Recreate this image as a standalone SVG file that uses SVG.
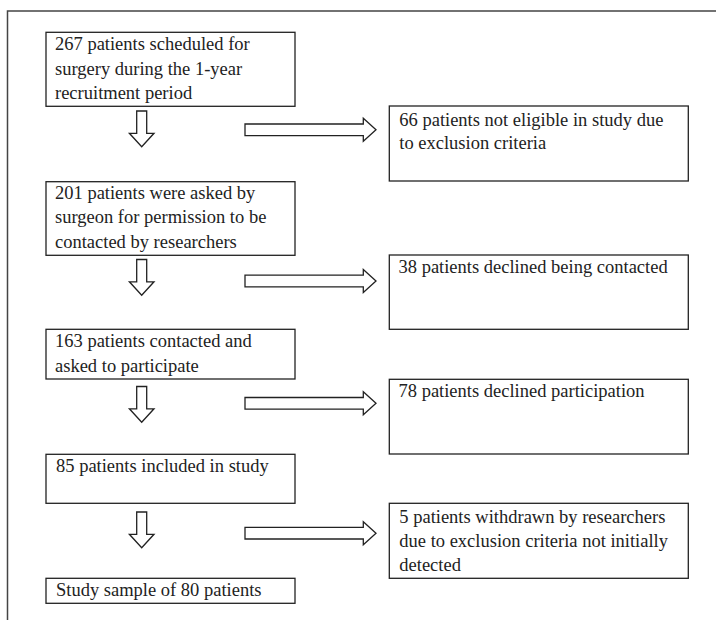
<svg xmlns="http://www.w3.org/2000/svg" xmlns:xlink="http://www.w3.org/1999/xlink" width="716" height="620" viewBox="0 0 716 620">
<style>
  .box { fill: #fff; stroke: #222; stroke-width: 1.3; }
  .arr { fill: #fff; stroke: #222; stroke-width: 1.3; stroke-linejoin: miter; }
  .t { font-family: "Liberation Serif", "Times New Roman", serif; font-size: 18.5px; fill: #222; }
  .frame { fill: none; stroke: #444; stroke-width: 1.5; }
</style>
<defs>
  <path id="down" class="arr" d="M-5,0 H5 V22.3 H12.3 L0,35.7 L-12.3,22.3 H-5 Z"/>
  <path id="right" class="arr" d="M0,-5.8 H118.3 V-11.5 L131,0 L118.3,11.5 V5.8 H0 Z"/>
</defs>
<rect width="716" height="620" fill="#fff"/>
<path class="frame" d="M7.5,620 V11 H716"/>

<g id="connectors">
  <use xlink:href="#down" x="141.7" y="111"/>
  <use xlink:href="#down" x="141.7" y="259.5"/>
  <use xlink:href="#down" x="141.7" y="386.5"/>
  <use xlink:href="#down" x="141.7" y="512"/>
  <use xlink:href="#right" x="245" y="129.8"/>
  <use xlink:href="#right" x="245" y="281"/>
  <use xlink:href="#right" x="245" y="403.3"/>
  <use xlink:href="#right" x="245" y="533.2"/>
</g>

<g id="n267">
  <rect class="box" x="46" y="32.3" width="249" height="74"/>
  <text class="t" x="55" y="50">267 patients scheduled for</text>
  <text class="t" x="55" y="74.5">surgery during the 1-year</text>
  <text class="t" x="55" y="99">recruitment period</text>
</g>
<g id="n66">
  <rect class="box" x="389.3" y="106" width="299" height="75"/>
  <text class="t" x="399.3" y="125.5">66 patients not eligible in study due</text>
  <text class="t" x="399.3" y="149">to exclusion criteria</text>
</g>
<g id="n201">
  <rect class="box" x="46" y="181.7" width="249" height="73.6"/>
  <text class="t" x="55" y="199">201 patients were asked by</text>
  <text class="t" x="55" y="223.3">surgeon for permission to be</text>
  <text class="t" x="55" y="247.7">contacted by researchers</text>
</g>
<g id="n38">
  <rect class="box" x="389.3" y="255" width="299" height="74.3"/>
  <text class="t" x="398.5" y="273.3">38 patients declined being contacted</text>
</g>
<g id="n163">
  <rect class="box" x="46" y="329.3" width="249" height="49.7"/>
  <text class="t" x="55" y="347.3">163 patients contacted and</text>
  <text class="t" x="55" y="371.7">asked to participate</text>
</g>
<g id="n78">
  <rect class="box" x="389.3" y="379.3" width="299" height="74.7"/>
  <text class="t" x="398.5" y="396.7">78 patients declined participation</text>
</g>
<g id="n85">
  <rect class="box" x="46" y="454.3" width="249" height="49"/>
  <text class="t" x="56" y="471.7">85 patients included in study</text>
</g>
<g id="n5">
  <rect class="box" x="389.3" y="503.3" width="299" height="75"/>
  <text class="t" x="399.3" y="522.7">5 patients withdrawn by researchers</text>
  <text class="t" x="399.3" y="546.7">due to exclusion criteria not initially</text>
  <text class="t" x="399.3" y="570.7">detected</text>
</g>
<g id="n80">
  <rect class="box" x="46" y="578.3" width="249" height="25"/>
  <text class="t" x="56" y="595.7">Study sample of 80 patients</text>
</g>
</svg>
